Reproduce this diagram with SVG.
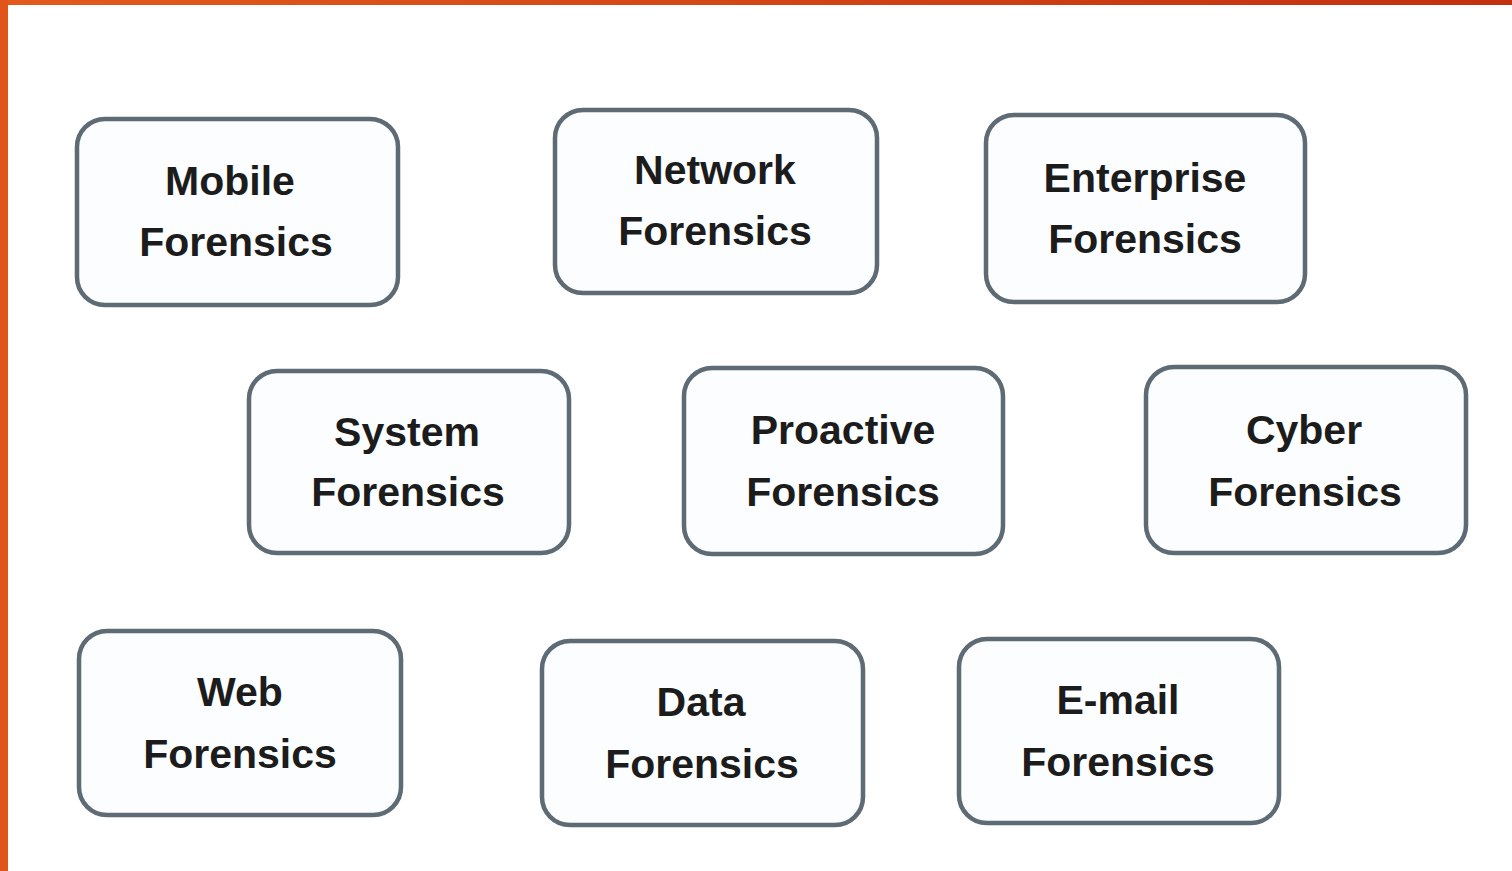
<svg xmlns="http://www.w3.org/2000/svg" width="1512" height="871" viewBox="0 0 1512 871">
<defs>
<linearGradient id="og" x1="0" y1="0" x2="1" y2="0">
<stop offset="0" stop-color="#e35a1c"/>
<stop offset="1" stop-color="#c2300f"/>
</linearGradient>
<style>
.box{fill:#fbfdfe;stroke:#5e6a74;stroke-width:4.5}
.t{font-family:"Liberation Sans",Arial,sans-serif;font-weight:bold;font-size:41px;fill:#1c1c1c;text-anchor:middle}
</style>
</defs>
<rect x="0" y="0" width="1512" height="871" fill="#ffffff"/>
<rect x="0" y="0" width="1512" height="5" fill="url(#og)"/>
<rect x="0" y="0" width="8" height="871" fill="#e0561a"/>
<g id="connectors"/>
<g id="mobile"><rect class="box" x="77" y="119" width="321" height="186" rx="28"/><text class="t" x="230" y="195">Mobile</text><text class="t" x="236" y="256">Forensics</text></g>
<g id="network"><rect class="box" x="555" y="110" width="322" height="183" rx="28"/><text class="t" x="715" y="184">Network</text><text class="t" x="715" y="245">Forensics</text></g>
<g id="enterprise"><rect class="box" x="986" y="115" width="319" height="187" rx="28"/><text class="t" x="1145" y="192">Enterprise</text><text class="t" x="1145" y="253">Forensics</text></g>
<g id="system"><rect class="box" x="249" y="371" width="320" height="182" rx="28"/><text class="t" x="407" y="446">System</text><text class="t" x="408" y="506">Forensics</text></g>
<g id="proactive"><rect class="box" x="684" y="368" width="319" height="186" rx="28"/><text class="t" x="843" y="444">Proactive</text><text class="t" x="843" y="506">Forensics</text></g>
<g id="cyber"><rect class="box" x="1146" y="367" width="320" height="186" rx="28"/><text class="t" x="1304" y="444">Cyber</text><text class="t" x="1305" y="506">Forensics</text></g>
<g id="web"><rect class="box" x="79" y="631" width="322" height="184" rx="28"/><text class="t" x="240" y="706">Web</text><text class="t" x="240" y="768">Forensics</text></g>
<g id="data"><rect class="box" x="542" y="641" width="321" height="184" rx="28"/><text class="t" x="701" y="716">Data</text><text class="t" x="702" y="778">Forensics</text></g>
<g id="email"><rect class="box" x="959" y="639" width="320" height="184" rx="28"/><text class="t" x="1118" y="714">E-mail</text><text class="t" x="1118" y="776">Forensics</text></g>
</svg>
